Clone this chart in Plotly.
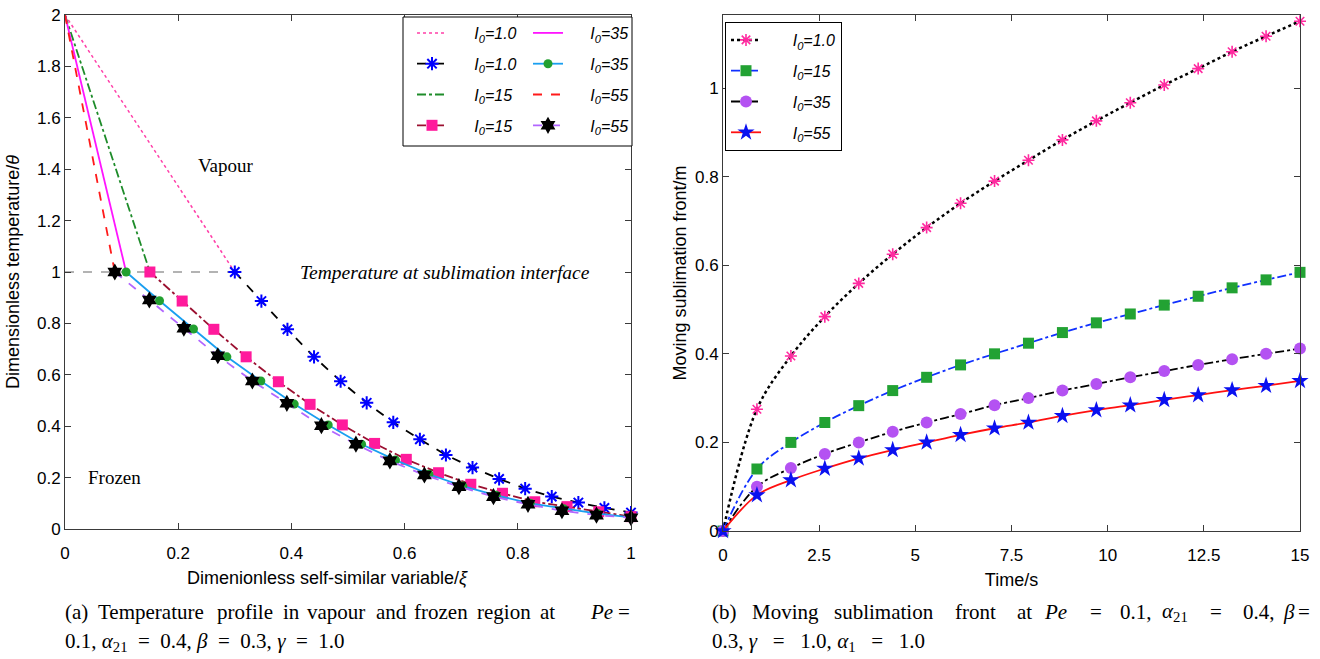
import plotly.graph_objects as go

W, H = 1320, 659

# ---------------- Left panel data (temperature profile) ----------------
vap_xi_1 = [0.0, 0.300]
vap_xi_15 = [0.0, 0.150]
vap_xi_35 = [0.0, 0.108]
vap_xi_55 = [0.0, 0.088]
vap_theta = [2.0, 1.0]

fr_xi_1 = [0.300, 0.347, 0.393, 0.440, 0.487, 0.533, 0.580, 0.627, 0.673, 0.720, 0.767, 0.813, 0.860, 0.907, 0.953, 1.000]
fr_th_1 = [1.000, 0.887, 0.777, 0.670, 0.575, 0.491, 0.415, 0.349, 0.288, 0.239, 0.195, 0.157, 0.126, 0.103, 0.082, 0.064]
fr_xi_15 = [0.150, 0.207, 0.263, 0.320, 0.377, 0.433, 0.490, 0.547, 0.603, 0.660, 0.717, 0.773, 0.830, 0.887, 0.943, 1.000]
fr_th_15 = [1.000, 0.887, 0.777, 0.670, 0.573, 0.485, 0.405, 0.333, 0.271, 0.219, 0.174, 0.139, 0.106, 0.087, 0.067, 0.048]
fr_xi_35 = [0.108, 0.167, 0.227, 0.286, 0.346, 0.405, 0.465, 0.524, 0.584, 0.643, 0.703, 0.762, 0.822, 0.881, 0.941, 1.000]
fr_th_35 = [1.000, 0.888, 0.778, 0.670, 0.576, 0.486, 0.405, 0.330, 0.268, 0.213, 0.167, 0.131, 0.100, 0.079, 0.060, 0.045]
fr_xi_55 = [0.088, 0.149, 0.210, 0.270, 0.331, 0.392, 0.453, 0.514, 0.574, 0.635, 0.696, 0.757, 0.818, 0.878, 0.939, 1.000]
fr_th_55 = [1.000, 0.891, 0.781, 0.674, 0.576, 0.489, 0.402, 0.330, 0.265, 0.210, 0.165, 0.126, 0.096, 0.071, 0.054, 0.044]

iface_xi = [0.0, 0.300]
iface_th = [1.0, 1.0]

xi_ticks = [0, 0.2, 0.4, 0.6, 0.8, 1]
theta_ticks = [0, 0.2, 0.4, 0.6, 0.8, 1, 1.2, 1.4, 1.6, 1.8, 2]

# ---------------- Right panel data (moving front) ----------------
time_s = [0.0, 0.882, 1.765, 2.647, 3.529, 4.412, 5.294, 6.176, 7.059, 7.941,
          8.824, 9.706, 10.588, 11.471, 12.353, 13.235, 14.118, 15.0]
front_1 = [0.0, 0.275, 0.395, 0.484, 0.559, 0.625, 0.685, 0.740, 0.790, 0.837,
           0.883, 0.926, 0.967, 1.007, 1.044, 1.082, 1.117, 1.151]
front_15 = [0.0, 0.140, 0.200, 0.245, 0.283, 0.317, 0.347, 0.375, 0.400, 0.424,
            0.448, 0.470, 0.490, 0.510, 0.530, 0.549, 0.567, 0.584]
front_35 = [0.0, 0.100, 0.142, 0.174, 0.200, 0.224, 0.245, 0.264, 0.284, 0.300,
            0.317, 0.332, 0.347, 0.361, 0.375, 0.388, 0.400, 0.412]
front_55 = [0.0, 0.081, 0.115, 0.141, 0.164, 0.183, 0.200, 0.217, 0.232, 0.245,
            0.260, 0.273, 0.284, 0.296, 0.307, 0.318, 0.328, 0.339]

time_ticks = [0, 2.5, 5, 7.5, 10, 12.5, 15]
front_ticks = [0, 0.2, 0.4, 0.6, 0.8, 1]

NB = "\u00a0"
def lbl(v, pad):
    return NB * pad + f"<i>I</i><sub><i>0</i></sub><i>={v}</i>"

SANS = "Liberation Sans, Arial, sans-serif"
SERIF = "Liberation Serif, Times New Roman, serif"

def px_x(p):
    return p / W

def px_y(p):
    return 1 - p / H

fig = go.Figure()

fig.add_trace(go.Scatter(x=iface_xi, y=iface_th, mode="lines", showlegend=False,
                         line=dict(color="#9a9a9a", width=1.3, dash="dash"),
                         xaxis="x", yaxis="y", hoverinfo="skip"))

left_traces = [
    dict(x=vap_xi_1, y=vap_theta, name=lbl("1.0", 5), mode="lines",
         line=dict(color="#ff3fa8", width=1.5, dash="dot"), legend="legend"),
    dict(x=fr_xi_1, y=fr_th_1, name=lbl("1.0", 5), mode="lines+markers",
         line=dict(color="black", width=1.8, dash="dash"),
         marker=dict(symbol="asterisk", size=11, color="blue", line=dict(color="blue", width=2)),
         legend="legend"),
    dict(x=vap_xi_15, y=vap_theta, name=lbl("15", 5), mode="lines",
         line=dict(color="#1e8c2a", width=1.8, dash="dashdot"), legend="legend"),
    dict(x=fr_xi_15, y=fr_th_15, name=lbl("15", 5), mode="lines+markers",
         line=dict(color="#9b1030", width=1.8, dash="dashdot"),
         marker=dict(symbol="square", size=11, color="#ff1a9c"), legend="legend"),
    dict(x=vap_xi_35, y=vap_theta, name=lbl("35", 5), mode="lines",
         line=dict(color="#ff14ff", width=1.8), legend="legend2"),
    dict(x=fr_xi_35, y=fr_th_35, name=lbl("35", 5), mode="lines+markers",
         line=dict(color="#1a9ff0", width=1.8),
         marker=dict(symbol="circle", size=9, color="#22a030"), legend="legend2"),
    dict(x=vap_xi_55, y=vap_theta, name=lbl("55", 5), mode="lines",
         line=dict(color="#ff1a1a", width=1.8, dash="dash"), legend="legend2"),
    dict(x=fr_xi_55, y=fr_th_55, name=lbl("55", 5), mode="lines+markers",
         line=dict(color="#b266ff", width=1.8, dash="dash"),
         marker=dict(symbol="hexagram", size=13, color="black"), legend="legend2"),
]
for i, t in enumerate(left_traces):
    fig.add_trace(go.Scatter(xaxis="x", yaxis="y", cliponaxis=False,
                             legendgroup=f"L{i}", **t))

right_traces = [
    dict(y=front_1, name=lbl("1.0", 6), line=dict(color="black", width=2.5, dash="dot", shape="spline"),
         marker=dict(symbol="asterisk", size=10, color="#ff2aa0", line=dict(color="#ff2aa0", width=1.6))),
    dict(y=front_15, name=lbl("15", 6), line=dict(color="#1030ff", width=1.8, dash="dashdot", shape="spline"),
         marker=dict(symbol="square", size=11, color="#22a233")),
    dict(y=front_35, name=lbl("35", 6), line=dict(color="black", width=1.8, dash="dashdot", shape="spline"),
         marker=dict(symbol="circle", size=12, color="#b452f2")),
    dict(y=front_55, name=lbl("55", 6), line=dict(color="#ff1010", width=1.8, shape="spline"),
         marker=dict(symbol="star", size=13, color="#0a10f0")),
]
for i, t in enumerate(right_traces):
    fig.add_trace(go.Scatter(x=time_s, mode="lines+markers", xaxis="x2", yaxis="y2",
                             cliponaxis=False, legend="legend3", legendgroup=f"R{i}", **t))

TFONT = dict(family=SANS, size=18, color="black")
axis_common = dict(showgrid=False, zeroline=False, showline=True, linecolor="#3a3a3a",
                   linewidth=1, mirror="ticks", ticks="inside", ticklen=6,
                   tickcolor="#3a3a3a", tickfont=dict(family=SANS, size=17, color="black"),
                   automargin=False, tickmode="array", ticklabeloverflow="allow")

fig.update_layout(
    width=W, height=H,
    margin=dict(l=0, r=0, t=0, b=0),
    paper_bgcolor="white", plot_bgcolor="white",
    xaxis=dict(domain=[px_x(65), px_x(631)], range=[0, 1], tickvals=xi_ticks,
               ticktext=[f"{v:g}" for v in xi_ticks], anchor="y", ticklabelstandoff=9,
               **axis_common),
    yaxis=dict(domain=[px_y(529), px_y(15)], range=[0, 2], tickvals=theta_ticks,
               ticktext=[f"{v:g}" for v in theta_ticks], anchor="x",
               title=dict(text="Dimensionless temperature/<i>θ</i>", font=TFONT, standoff=12),
               **axis_common),
    xaxis2=dict(domain=[px_x(723), px_x(1300)], range=[0, 15], tickvals=time_ticks,
                ticktext=[f"{v:g}" for v in time_ticks], anchor="y2", ticklabelstandoff=9,
                title=dict(text="Time/s", font=TFONT, standoff=8),
                **axis_common),
    yaxis2=dict(domain=[px_y(531), px_y(15)], range=[0, 1.165], tickvals=front_ticks,
                ticktext=[f"{v:g}" for v in front_ticks], anchor="x2",
                title=dict(text="Moving sublimation front/m", font=TFONT, standoff=3),
                **axis_common),
    legend=dict(x=px_x(412), y=px_y(16), xanchor="left", yanchor="top",
                bgcolor="rgba(0,0,0,0)", font=dict(family=SANS, size=16, color="black"),
                tracegroupgap=7),
    legend2=dict(x=px_x(528), y=px_y(16), xanchor="left", yanchor="top",
                 bgcolor="rgba(0,0,0,0)", font=dict(family=SANS, size=16, color="black"),
                 tracegroupgap=7),
    legend3=dict(x=px_x(725), y=px_y(22), xanchor="left", yanchor="top",
                 bgcolor="white", bordercolor="black", borderwidth=1,
                 font=dict(family=SANS, size=16, color="black"), tracegroupgap=7),
    shapes=[dict(type="rect", xref="paper", yref="paper",
                 x0=px_x(403), x1=px_x(632), y0=px_y(146), y1=px_y(17),
                 line=dict(color="black", width=1), fillcolor="white", layer="above")],
    showlegend=True,
)

ann = [
    dict(x=px_x(327), y=px_y(578), xref="paper", yref="paper", xanchor="center", yanchor="middle",
         text="Dimenionless self-similar variable/<i>ξ</i>", showarrow=False, font=TFONT),
    dict(x=0.285, y=1.416, xref="x", yref="y", text="Vapour", showarrow=False,
         font=dict(family=SERIF, size=19, color="black")),
    dict(x=0.087, y=0.202, xref="x", yref="y", text="Frozen", showarrow=False,
         font=dict(family=SERIF, size=19, color="black")),
    dict(x=0.671, y=1.0, xref="x", yref="y", text="<i>Temperature at sublimation interface</i>",
         showarrow=False, font=dict(family=SERIF, size=19.5, color="black")),
]

CF = dict(family=SERIF, size=21, color="black")
cap_a1 = [("(a)", 63), ("Temperature", 96), ("profile", 215), ("in", 281), ("vapour", 305),
          ("and", 374), ("frozen", 412), ("region", 475), ("at", 538), ("<i>Pe</i>", 588)]
cap_b1 = [("(b)", 710), ("Moving", 750), ("sublimation", 832), ("front", 953), ("at", 1015),
          ("<i>Pe</i>", 1042), ("=", 1088), ("0.1,", 1118), ("<i>α</i><sub>21</sub>", 1160),
          ("=", 1208), ("0.4,", 1241), ("<i>β</i>", 1281)]
for txt, xl in cap_a1 + cap_b1:
    ann.append(dict(x=px_x(xl), y=px_y(612), xref="paper", yref="paper", xanchor="left",
                    yanchor="middle", text=txt, showarrow=False, font=CF))
for xr in (632, 1312):
    ann.append(dict(x=px_x(xr), y=px_y(612), xref="paper", yref="paper", xanchor="right",
                    yanchor="middle", text="=", showarrow=False, font=CF))
S = NB + NB
S3 = NB * 3
ann.append(dict(x=px_x(63), y=px_y(642), xref="paper", yref="paper", xanchor="left", yanchor="middle",
                text=f"0.1, <i>α</i><sub>21</sub>{S}={S}0.4, <i>β</i>{S}={S}0.3, <i>γ</i>{S}={S}1.0",
                showarrow=False, font=CF))
ann.append(dict(x=px_x(710), y=px_y(642), xref="paper", yref="paper", xanchor="left", yanchor="middle",
                text=f"0.3, <i>γ</i>{S3}={S3}1.0, <i>α</i><sub>1</sub>{S3}={S3}1.0",
                showarrow=False, font=CF))
fig.update_layout(annotations=ann)

fig.write_html("out.html", config={"displayModeBar": False},
               post_script="document.body.style.margin='0px';document.body.style.overflow='hidden';")
